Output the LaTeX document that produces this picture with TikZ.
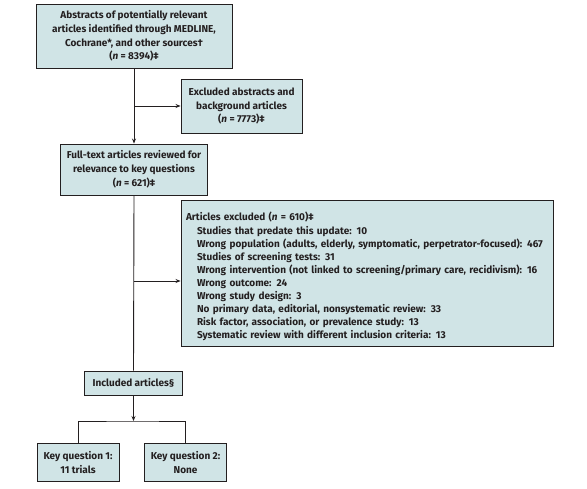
\documentclass[tikz,border=0pt]{standalone}
\usepackage{fontspec}
\setmainfont{Fira Sans}
\usetikzlibrary{arrows.meta}
\definecolor{boxfill}{HTML}{D0E4E6}
\definecolor{inkgray}{HTML}{231F20}

\begin{document}
\begin{tikzpicture}[x=1pt,y=-1pt,
	box/.style={draw=inkgray,fill=boxfill,line width=0.9pt,align=center,inner sep=2pt,
		text=inkgray,font=\fontsize{10}{13.8}\selectfont\bfseries},
	>={Stealth[length=5pt,width=4pt]}]
	\useasboundingbox (0,0) rectangle (587,488);
	
	\node[box,minimum width=196pt,minimum height=64pt] (abstracts) at (134,36) {Abstracts of potentially relevant\\articles identified through MEDLINE,\\Cochrane*, and other sources†\\(\textit{n} = 8394)‡};
	\node[box,minimum width=121pt,minimum height=54pt] (excabs) at (241.5,106) {Excluded abstracts and\\background articles\\(\textit{n} = 7773)‡};
	\node[box,minimum width=147pt,minimum height=51pt] (fulltext) at (134,169.5) {Full-text articles reviewed for\\relevance to key questions\\(\textit{n} = 621)‡};
	\node[box,align=left,text width=362pt,minimum height=141pt,inner sep=5pt,
		font=\fontsize{10}{13.1}\selectfont\bfseries] (excart) at (367,273.5) {\rule{0pt}{15pt}Articles excluded (\textit{n} = 610)‡\\
		\hspace*{11pt}Studies that predate this update: 10\\
		\hspace*{11pt}Wrong population (adults, elderly, symptomatic, perpetrator-focused): 467\\
		\hspace*{11pt}Studies of screening tests: 31\\
		\hspace*{11pt}Wrong intervention (not linked to screening/primary care, recidivism): 16\\
		\hspace*{11pt}Wrong outcome: 24\\
		\hspace*{11pt}Wrong study design: 3\\
		\hspace*{11pt}No primary data, editorial, nonsystematic review: 33\\
		\hspace*{11pt}Risk factor, association, or prevalence study: 13\\
		\hspace*{11pt}Systematic review with different inclusion criteria: 13};
	\node[box,minimum width=98pt,minimum height=24pt] (included) at (133.5,383) {Included articles§};
	\node[box,minimum width=82pt,minimum height=38pt] (kq1) at (78,462.5) {Key question 1:\\11 trials};
	\node[box,minimum width=82pt,minimum height=38pt] (kq2) at (185.5,462.5) {Key question 2:\\None};
	\coordinate (fork) at (133.5,421);
	
	\draw[->,line width=0.9pt,inkgray] (abstracts.south) -- (fulltext.north);
	\draw[->,line width=0.9pt,inkgray] (abstracts.south |- excabs.west) -- (excabs.west);
	\draw[line width=0.9pt,inkgray] (fulltext.south) -- (included.north);
	\draw[->,line width=0.9pt,inkgray] ([yshift=-7.5pt]fulltext.south |- excart.west) -- ([yshift=-7.5pt]excart.west);
	\draw[->,line width=0.9pt,inkgray] (included.south) -- (fork);
	\draw[line width=0.9pt,inkgray] (kq1.north) |- (fork) -| (kq2.north);
\end{tikzpicture}
\end{document}
